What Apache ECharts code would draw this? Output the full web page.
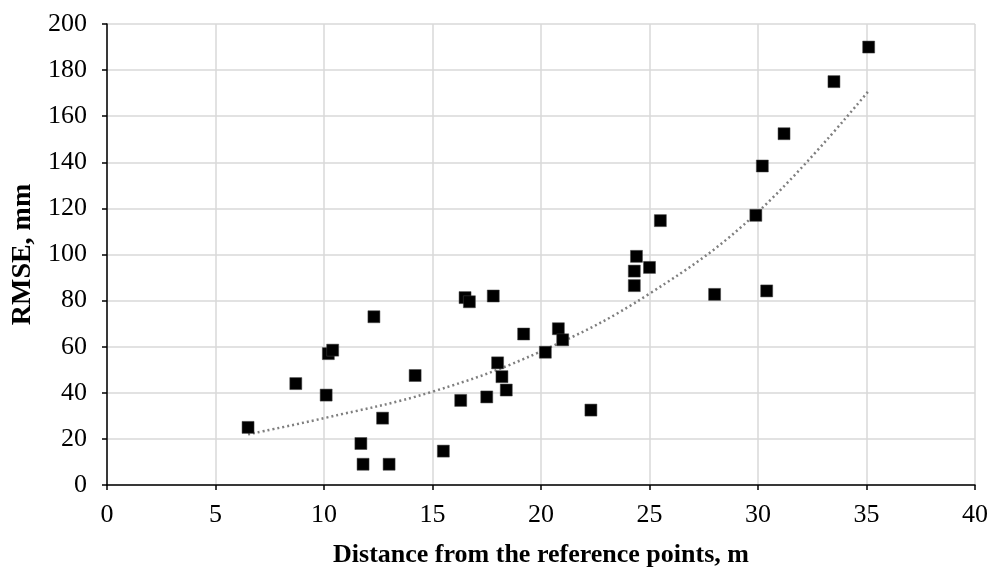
<!DOCTYPE html>
<html>
<head>
<meta charset="utf-8">
<script src="https://cdn.jsdelivr.net/npm/echarts@6/dist/echarts.min.js"></script>
<style>html,body{margin:0;padding:0;background:#fff}#c{width:994px;height:567px}</style>
</head>
<body>
<div id="c"></div>
<script>
// Measured points (distance, m ; RMSE, mm)
var distance = [6.5, 8.7, 10.1, 10.2, 10.4, 12.3, 11.7, 11.8, 12.7, 13.0, 14.2, 15.5,
  16.3, 16.5, 16.7, 17.5, 17.8, 18.0, 18.2, 18.4, 19.2, 20.2, 20.8, 21.0, 22.3,
  24.3, 24.3, 24.4, 25.0, 25.5, 28.0, 29.9, 30.2, 30.4, 31.2, 33.5, 35.1];
var rmse = [25, 44, 39, 57, 58.5, 73, 18, 9, 29, 9, 47.5, 14.7,
  36.7, 81.3, 79.5, 38.2, 82, 53, 47, 41.2, 65.5, 57.6, 67.8, 63, 32.5,
  86.5, 92.8, 99.2, 94.4, 114.7, 82.7, 117, 138.4, 84.2, 152.4, 175, 190];
// Trendline
var trendX = [6.5, 10, 15, 20, 25, 30, 35.1];
var trendY = [22, 29, 40.5, 58, 83, 118.5, 171];
var xTicks = [0, 5, 10, 15, 20, 25, 30, 35, 40];
var yTicks = [0, 20, 40, 60, 80, 100, 120, 140, 160, 180, 200];

var points = distance.map(function (d, i) { return [d, rmse[i]]; });
var trend = trendX.map(function (d, i) { return [d, trendY[i]]; });

var font = 'Liberation Serif';
var chart = echarts.init(document.getElementById('c'));
chart.setOption({
  animation: false,
  backgroundColor: '#fff',
  grid: { left: 107, right: 19, top: 24, bottom: 82, containLabel: false, outerBoundsMode: 'none' },
  xAxis: {
    type: 'value', min: xTicks[0], max: xTicks[xTicks.length - 1], interval: 5,
    name: 'Distance from the reference points, m',
    nameLocation: 'middle', nameGap: 57,
    nameTextStyle: { fontFamily: font, fontSize: 26, fontWeight: 'bold', color: '#000' },
    axisLine: { show: true, onZero: false, lineStyle: { color: '#000', width: 1.5 } },
    axisTick: { show: true, inside: false, length: 5, lineStyle: { color: '#000', width: 1.5 } },
    axisLabel: { fontFamily: font, fontSize: 26, color: '#000', margin: 17 },
    splitLine: { show: true, lineStyle: { color: '#d9d9d9', width: 1.5 } }
  },
  yAxis: {
    type: 'value', min: yTicks[0], max: yTicks[yTicks.length - 1], interval: 20,
    name: 'RMSE, mm', nameLocation: 'middle', nameGap: 70, nameRotate: 90,
    nameTextStyle: { fontFamily: font, fontSize: 28, fontWeight: 'bold', color: '#000' },
    axisLine: { show: true, lineStyle: { color: '#000', width: 1.5 } },
    axisTick: { show: true, inside: false, length: 5, lineStyle: { color: '#000', width: 1.5 } },
    axisLabel: { fontFamily: font, fontSize: 26, color: '#000', margin: 20 },
    splitLine: { show: true, lineStyle: { color: '#d9d9d9', width: 1.5 } }
  },
  series: [
    {
      type: 'line', data: trend, smooth: 0.4, symbol: 'none', z: 3,
      lineStyle: { color: '#7f7f7f', width: 2.5, type: [2, 3] }
    },
    {
      type: 'scatter', data: points, symbol: 'rect', symbolSize: 12, z: 4,
      itemStyle: { color: '#000', opacity: 1, borderColor: '#444', borderWidth: 0.5 }
    }
  ]
});
</script>
</body>
</html>
